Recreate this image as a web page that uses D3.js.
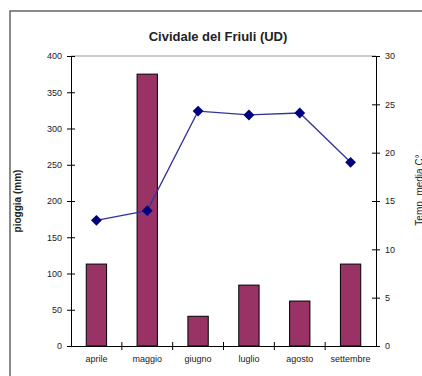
<!DOCTYPE html>
<html lang="it">
<head>
<meta charset="UTF-8" />
<title>Cividale del Friuli (UD)</title>
<script src="https://cdn.jsdelivr.net/npm/d3@7"></script>
<style>
  body { margin: 0; background: #fff; }
  svg { font-family: "Liberation Sans", Arial, sans-serif; }
</style>
</head>
<body>
<svg id="vis" width="422" height="376"></svg>
<script>
// dati
const mesi = ["aprile", "maggio", "giugno", "luglio", "agosto", "settembre"];
const pioggia = [113, 375, 41, 84, 62, 113];
const temperatura = [13.0, 14.0, 24.3, 23.9, 24.1, 19.0];
const tickPioggia = [0, 50, 100, 150, 200, 250, 300, 350, 400];
const tickTemp = [0, 5, 10, 15, 20, 25, 30];

const svg = d3.select("#vis");

// cornice esterna
svg.append("rect")
  .attr("x", 10).attr("y", 11)
  .attr("width", 430).attr("height", 400)
  .attr("fill", "none").attr("stroke", "#666").attr("stroke-width", 1.5);

const mLeft = 71, mRight = 376, mTop = 56, mBottom = 346;

const x = d3.scaleBand().domain(mesi).range([mLeft, mRight]).padding(0);
const yP = d3.scaleLinear().domain([0, 400]).range([mBottom, mTop]);
const yT = d3.scaleLinear().domain([0, 30]).range([mBottom, mTop]);

// titolo
svg.append("text")
  .attr("x", 218).attr("y", 41)
  .attr("text-anchor", "middle")
  .attr("font-size", 13).attr("font-weight", "bold").attr("fill", "#222")
  .text("Cividale del Friuli (UD)");

// bordo superiore dell'area del grafico
svg.append("line")
  .attr("x1", mLeft).attr("x2", mRight).attr("y1", mTop).attr("y2", mTop)
  .attr("stroke", "#999");

// barre
const barW = x.bandwidth() / 2.5;
svg.append("g").selectAll("rect")
  .data(mesi)
  .join("rect")
  .attr("x", (d) => x(d) + (x.bandwidth() - barW) / 2)
  .attr("y", (d, i) => yP(pioggia[i]))
  .attr("width", barW)
  .attr("height", (d, i) => mBottom - yP(pioggia[i]))
  .attr("fill", "#993366")
  .attr("stroke", "#000").attr("stroke-width", 1);

// assi
function stile(g) {
  g.selectAll("path").attr("stroke", "#000");
  g.selectAll("line").attr("stroke", "#000");
  g.selectAll("text").attr("font-size", 9).attr("fill", "#222");
}

const gy = svg.append("g").attr("transform", `translate(${mLeft},0)`)
  .call(d3.axisLeft(yP).tickValues(tickPioggia).tickSizeOuter(0).tickSize(4).tickPadding(5));
gy.selectAll(".tick line").attr("x2", 8).attr("transform", "translate(-4,0)");
stile(gy);

const gyr = svg.append("g").attr("transform", `translate(${mRight},0)`)
  .call(d3.axisRight(yT).tickValues(tickTemp).tickSizeOuter(0).tickSize(4).tickPadding(5));
gyr.selectAll(".tick line").attr("x2", 8).attr("transform", "translate(-4,0)");
stile(gyr);

const gx = svg.append("g").attr("transform", `translate(0,${mBottom})`)
  .call(d3.axisBottom(x).tickSize(0).tickSizeOuter(0).tickPadding(10));
stile(gx);
// tacche tra le categorie
gx.selectAll(".sep")
  .data(mesi.slice(1))
  .join("line")
  .attr("class", "sep")
  .attr("x1", (d) => x(d)).attr("x2", (d) => x(d))
  .attr("y1", -4).attr("y2", 4)
  .attr("stroke", "#000");

// titoli degli assi
svg.append("text")
  .attr("transform", "translate(21,201) rotate(-90)")
  .attr("text-anchor", "middle")
  .attr("font-size", 10).attr("font-weight", "bold").attr("fill", "#222")
  .text("pioggia (mm)");

svg.append("text")
  .attr("transform", "translate(423,190) rotate(-90)")
  .attr("text-anchor", "middle")
  .attr("font-size", 10).attr("fill", "#222")
  .text("Temp. media C°");

// linea della temperatura
const cx = (d) => x(d) + x.bandwidth() / 2;
const linea = d3.line()
  .x((d) => cx(d))
  .y((d, i) => yT(temperatura[i]));

svg.append("path")
  .datum(mesi)
  .attr("d", linea)
  .attr("fill", "none")
  .attr("stroke", "#333399").attr("stroke-width", 1.3);

svg.append("g").selectAll("path")
  .data(mesi)
  .join("path")
  .attr("d", d3.symbol(d3.symbolDiamond2, 75))
  .attr("transform", (d, i) => `translate(${cx(d)},${yT(temperatura[i])})`)
  .attr("fill", "#000080");
</script>
</body>
</html>
